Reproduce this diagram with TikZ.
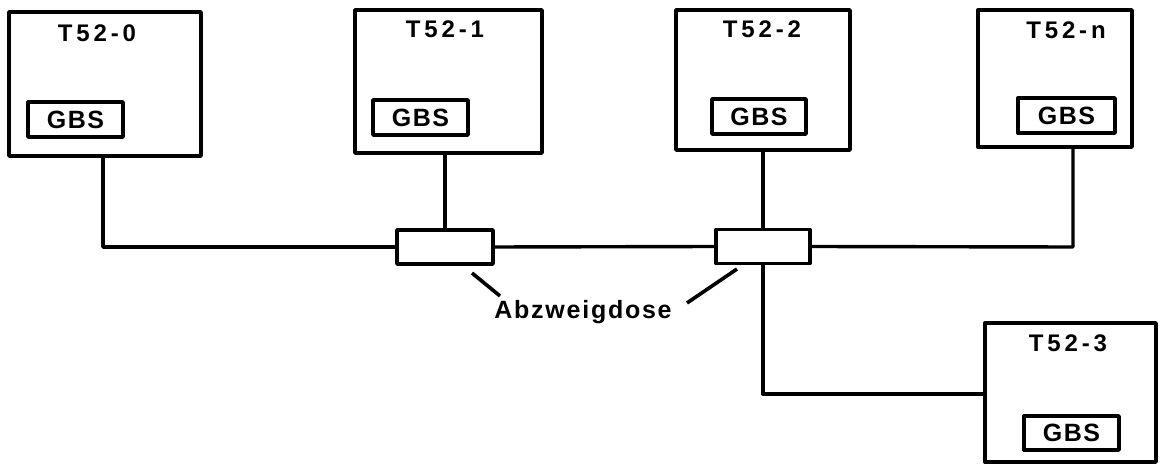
\documentclass[tikz,border=0pt]{standalone}
\usepackage{fontspec}
\setmainfont{Liberation Sans}
\newfontfamily\lblfont[LetterSpace=16]{Liberation Sans Bold}
\newfontfamily\gbsfont[LetterSpace=6]{Liberation Sans Bold}
\newfontfamily\abzfont[LetterSpace=7]{Liberation Sans Bold}
\usetikzlibrary{calc}
\begin{document}
\begin{tikzpicture}[x=1bp,y=-1bp,line width=3.4bp,line join=round,
  term/.style={draw,line width=3.4bp,rectangle,inner sep=0pt,outer sep=0pt},
  gbs/.style={draw,line width=3.4bp,rectangle,inner sep=0pt,outer sep=0pt,minimum width=95bp,minimum height=35bp,
    font=\gbsfont\fontsize{25bp}{28bp}\selectfont},
  tlabel/.style={inner sep=0pt,font=\lblfont\fontsize{24bp}{28bp}\selectfont},
  dose/.style={draw,line width=3.4bp,rectangle,inner sep=0pt,outer sep=0pt,minimum width=95bp,minimum height=34bp},
  wire/.style={line width=3.4bp},
  leader/.style={line width=3.6bp}]
\useasboundingbox (0,0) rectangle (1160,465);
% terminals
\node[term,minimum width=192bp,minimum height=144bp] (t0) at (105,84) {};
\node[term,minimum width=187bp,minimum height=143bp] (t1) at (448.5,81.5) {};
\node[term,minimum width=174bp,minimum height=140bp] (t2) at (763,80) {};
\node[term,minimum width=154bp,minimum height=137bp] (tn) at (1055,78.5) {};
\node[term,minimum width=171bp,minimum height=139bp] (t3) at (1070.5,392.5) {};
% titles
\node[tlabel] (l0) at (97,33) {T52-0};
\node[tlabel] (l1) at (445,29) {T52-1};
\node[tlabel] (l2) at (762,29) {T52-2};
\node[tlabel] (ln) at (1066,30) {T52-n};
\node[tlabel] (l3) at (1068,343) {T52-3};
% GBS
\node[gbs] (g0) at (75.5,119.5) {GBS};
\node[gbs] (g1) at (420.5,117.5) {GBS};
\node[gbs,minimum width=94bp] (g2) at (759,116.5) {GBS};
\node[gbs,minimum width=97bp] (gn) at (1066.5,115.5) {GBS};
\node[gbs,minimum width=95bp,minimum height=34bp] (g3) at (1071.5,433) {GBS};
% junction boxes
\node[dose,minimum width=96bp] (d1) at (445,247) {};
\node[dose,minimum width=94bp] (d2) at (763,246.5) {};
% label
\node[inner sep=0pt,font=\abzfont\fontsize{25bp}{28bp}\selectfont] (abz) at (583,312) {Abzweigdose};
% wires
\coordinate (c0) at (103,247);
\coordinate (cn) at (1073,247);
\coordinate (c3) at (763,394);
\draw[wire] (t0.south -| c0) -- (c0) -- (d1.west);
\draw[wire] (t1.south -| d1.north) -- (d1.north);
\draw[wire] (d1.east) -- (d2.west);
\draw[wire] (t2.south -| d2.north) -- (d2.north);
\draw[wire] (d2.east) -- (cn) -- (tn.south -| cn);
\draw[wire] (d2.south) -- (c3) -- (t3.west |- c3);
% leaders
\coordinate (a1) at (472,273);
\coordinate (a1e) at (500,296);
\coordinate (a2) at (737,269);
\coordinate (a2e) at (687,303);
\draw[leader] (a1e) -- (a1);
\draw[leader] (a2e) -- (a2);
\end{tikzpicture}
\end{document}
